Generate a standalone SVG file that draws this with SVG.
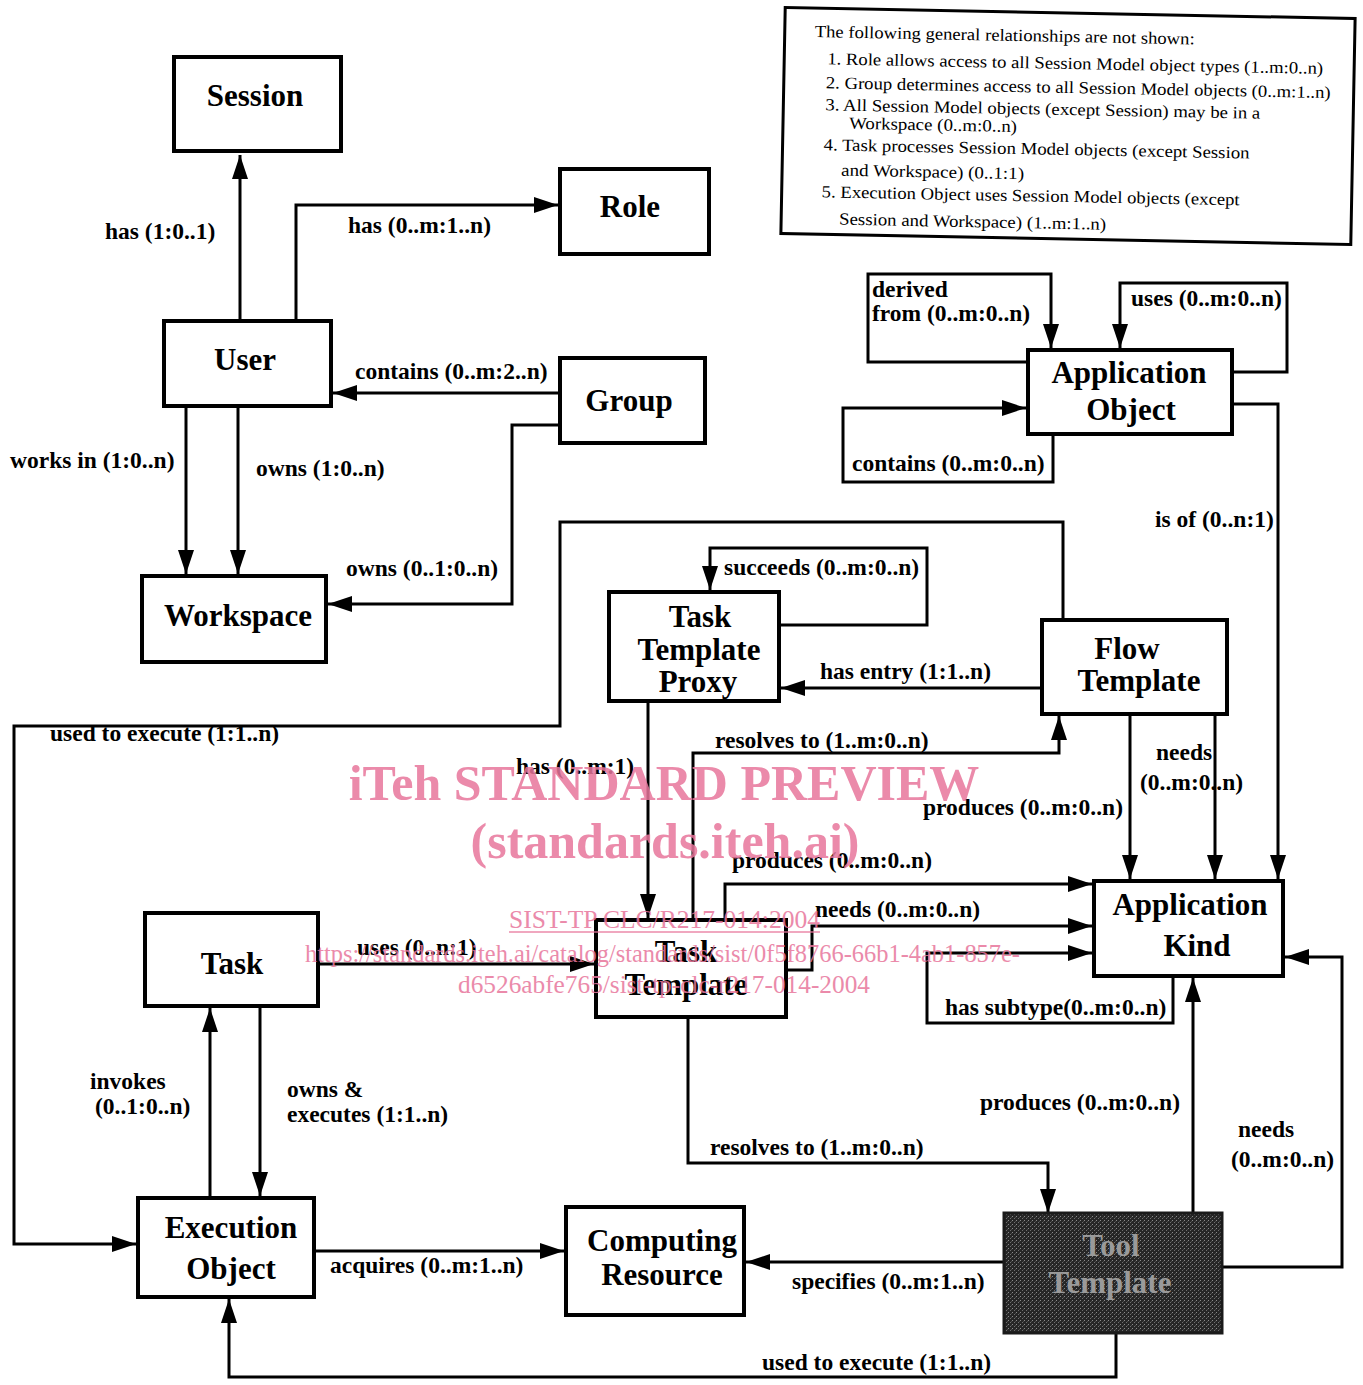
<svg xmlns="http://www.w3.org/2000/svg" width="1363" height="1385" viewBox="0 0 1363 1385">
<style>
.node rect{fill:#fff;stroke:#000;stroke-width:4}
.nt{font-family:"Liberation Serif",serif;font-weight:bold;font-size:31px;text-anchor:middle;fill:#000}
.lbl{font-family:"Liberation Serif",serif;font-weight:bold;font-size:23.5px;fill:#000}
.conn path{fill:none;stroke:#000;stroke-width:3;marker-end:url(#ah)}
.note{font-family:"Liberation Serif",serif;font-size:17px;fill:#000}
.wm{font-family:"Liberation Serif",serif;fill:#e8769c}
</style>
<defs>
<marker id="ah" viewBox="0 0 24 16" refX="24" refY="8" markerWidth="24" markerHeight="16" markerUnits="userSpaceOnUse" orient="auto">
<path d="M0,0 L24,8 L0,16 z" fill="#000"/>
</marker>
<pattern id="dither" width="4" height="4" patternUnits="userSpaceOnUse">
<rect width="4" height="4" fill="#262626"/>
<rect x="0" y="0" width="1" height="1" fill="#8a8a8a"/>
<rect x="2" y="2" width="1" height="1" fill="#6e6e6e"/>
<rect x="3" y="1" width="1" height="1" fill="#4a4a4a"/>
</pattern>
</defs>
<rect width="1363" height="1385" fill="#fff"/>

<g id="notes" transform="rotate(1.1 1068 126)">
<rect x="783" y="13" width="570" height="226" fill="#fff" stroke="#000" stroke-width="3"/>
<text class="note" x="813" y="42" textLength="380" lengthAdjust="spacingAndGlyphs">The following general relationships are not shown:</text>
<text class="note" x="826" y="69" textLength="496" lengthAdjust="spacingAndGlyphs">1. Role allows access to all Session Model object types (1..m:0..n)</text>
<text class="note" x="825" y="93" textLength="505" lengthAdjust="spacingAndGlyphs">2. Group determines access to all Session Model objects (0..m:1..n)</text>
<text class="note" x="825" y="115" textLength="435" lengthAdjust="spacingAndGlyphs">3. All Session Model objects (except Session) may be in a</text>
<text class="note" x="849" y="133" textLength="168" lengthAdjust="spacingAndGlyphs">Workspace (0..m:0..n)</text>
<text class="note" x="824" y="155" textLength="426" lengthAdjust="spacingAndGlyphs">4. Task processes Session Model objects (except Session</text>
<text class="note" x="842" y="180" textLength="183" lengthAdjust="spacingAndGlyphs">and Workspace) (0..1:1)</text>
<text class="note" x="823" y="202" textLength="418" lengthAdjust="spacingAndGlyphs">5. Execution Object uses Session Model objects (except</text>
<text class="note" x="841" y="229" textLength="267" lengthAdjust="spacingAndGlyphs">Session and Workspace) (1..m:1..n)</text>
</g>

<g id="connectors" class="conn">
<g><path d="M240,321 V155"/><text class="lbl" x="105" y="239">has (1:0..1)</text></g>
<g><path d="M296,321 V205 H558"/><text class="lbl" x="348" y="233">has (0..m:1..n)</text></g>
<g><path d="M560,393 H333"/><text class="lbl" x="355" y="379">contains (0..m:2..n)</text></g>
<g><path d="M186,408 V574"/><text class="lbl" x="10" y="468">works in (1:0..n)</text></g>
<g><path d="M238,408 V574"/><text class="lbl" x="256" y="476">owns (1:0..n)</text></g>
<g><path d="M560,425 H512 V604 H328"/><text class="lbl" x="346" y="576">owns (0..1:0..n)</text></g>
<g><path d="M1028,362 H868 V274 H1051 V348"/><text class="lbl" x="872" y="297">derived</text><text class="lbl" x="872" y="321">from (0..m:0..n)</text></g>
<g><path d="M1232,372 H1287 V283 H1120 V348"/><text class="lbl" x="1131" y="306">uses (0..m:0..n)</text></g>
<g><path d="M1053,436 V482 H843 V408 H1026"/><text class="lbl" x="852" y="471">contains (0..m:0..n)</text></g>
<g><path d="M1232,404 H1278 V879"/><text class="lbl" x="1155" y="527">is of (0..n:1)</text></g>
<g><path d="M779,625 H927 V548 H710 V590"/><text class="lbl" x="724" y="575">succeeds (0..m:0..n)</text></g>
<g><path d="M1042,688 H781"/><text class="lbl" x="820" y="679">has entry (1:1..n)</text></g>
<g><path d="M1063,620 V522 H560 V726 H14 V1244 H136"/><text class="lbl" x="50" y="741">used to execute (1:1..n)</text></g>
<g><path d="M648,701 V918"/><text class="lbl" x="516" y="774">has (0..m:1)</text></g>
<g><path d="M693,920 V753 H1059 V716"/><text class="lbl" x="715" y="748">resolves to (1..m:0..n)</text></g>
<g><path d="M1130,714 V879"/><text class="lbl" x="923" y="815">produces (0..m:0..n)</text></g>
<g><path d="M1215,714 V879"/><text class="lbl" x="1156" y="760">needs</text><text class="lbl" x="1140" y="790">(0..m:0..n)</text></g>
<g><path d="M725,920 V884 H1092"/><text class="lbl" x="732" y="868">produces (0..m:0..n)</text></g>
<g><path d="M786,970 H812 V926 H1092"/><text class="lbl" x="815" y="917">needs (0..m:0..n)</text></g>
<g><path d="M1173,976 V1023 H927 V953 H1092"/><text class="lbl" x="945" y="1015">has subtype(0..m:0..n)</text></g>
<g><path d="M318,964 H594"/><text class="lbl" x="357" y="955">uses (0..n:1)</text></g>
<g><path d="M260,1006 V1196"/><text class="lbl" x="287" y="1097">owns &amp;</text><text class="lbl" x="287" y="1122">executes (1:1..n)</text></g>
<g><path d="M210,1198 V1008"/><text class="lbl" x="90" y="1089">invokes</text><text class="lbl" x="95" y="1114">(0..1:0..n)</text></g>
<g><path d="M314,1251 H564"/><text class="lbl" x="330" y="1273">acquires (0..m:1..n)</text></g>
<g><path d="M688,1017 V1163 H1048 V1213"/><text class="lbl" x="710" y="1155">resolves to (1..m:0..n)</text></g>
<g><path d="M1193,1213 V978"/><text class="lbl" x="980" y="1110">produces (0..m:0..n)</text></g>
<g><path d="M1222,1267 H1342 V957 H1285"/><text class="lbl" x="1238" y="1137">needs</text><text class="lbl" x="1231" y="1167">(0..m:0..n)</text></g>
<g><path d="M1004,1262 H746"/><text class="lbl" x="792" y="1289">specifies (0..m:1..n)</text></g>
<g><path d="M1116,1333 V1377 H229 V1299"/><text class="lbl" x="762" y="1370">used to execute (1:1..n)</text></g>
</g>

<g id="session" class="node"><rect x="174" y="57" width="167" height="94"/><text class="nt" x="255" y="106">Session</text></g>
<g id="role" class="node"><rect x="560" y="169" width="149" height="85"/><text class="nt" x="630" y="217">Role</text></g>
<g id="user" class="node"><rect x="164" y="321" width="167" height="85"/><text class="nt" x="245" y="370">User</text></g>
<g id="group" class="node"><rect x="560" y="358" width="145" height="85"/><text class="nt" x="629" y="411">Group</text></g>
<g id="workspace" class="node"><rect x="142" y="576" width="184" height="86"/><text class="nt" x="238" y="626">Workspace</text></g>
<g id="application-object" class="node"><rect x="1028" y="350" width="204" height="84"/><text class="nt" x="1129" y="383">Application</text><text class="nt" x="1131" y="420">Object</text></g>
<g id="task-template-proxy" class="node"><rect x="609" y="592" width="170" height="109"/><text class="nt" x="700" y="627">Task</text><text class="nt" x="699" y="660">Template</text><text class="nt" x="698" y="692">Proxy</text></g>
<g id="flow-template" class="node"><rect x="1042" y="620" width="185" height="94"/><text class="nt" x="1127" y="659">Flow</text><text class="nt" x="1139" y="691">Template</text></g>
<g id="application-kind" class="node"><rect x="1094" y="881" width="189" height="95"/><text class="nt" x="1190" y="915">Application</text><text class="nt" x="1197" y="956">Kind</text></g>
<g id="task" class="node"><rect x="145" y="913" width="173" height="93"/><text class="nt" x="232" y="974">Task</text></g>
<g id="task-template" class="node"><rect x="596" y="920" width="190" height="97"/><text class="nt" x="686" y="962">Task</text><text class="nt" x="686" y="995">Template</text></g>
<g id="execution-object" class="node"><rect x="138" y="1198" width="176" height="99"/><text class="nt" x="231" y="1238">Execution</text><text class="nt" x="231" y="1279">Object</text></g>
<g id="computing-resource" class="node"><rect x="566" y="1207" width="178" height="108"/><text class="nt" x="662" y="1251">Computing</text><text class="nt" x="662" y="1285">Resource</text></g>
<g id="tool-template"><rect x="1004" y="1213" width="218" height="120" fill="url(#dither)" stroke="#1a1a1a" stroke-width="3"/><text class="nt" x="1111" y="1256" style="fill:#9a9a9a">Tool</text><text class="nt" x="1110" y="1293" style="fill:#9a9a9a">Template</text></g>

<g id="watermark" opacity="0.85">
<text class="wm" x="664" y="800" text-anchor="middle" font-size="50" font-weight="bold">iTeh STANDARD PREVIEW</text>
<text class="wm" x="665" y="858" text-anchor="middle" font-size="50" font-weight="bold">(standards.iteh.ai)</text>
<text class="wm" x="509" y="928" font-size="26" textLength="311" lengthAdjust="spacingAndGlyphs">SIST-TP CLC/R217-014:2004</text>
<line x1="509" y1="932" x2="820" y2="932" stroke="#e8769c" stroke-width="1.5"/>
<text class="wm" x="305" y="962" font-size="26" textLength="715" lengthAdjust="spacingAndGlyphs">https://standards.iteh.ai/catalog/standards/sist/0f5f8766-66b1-4ab1-857e-</text>
<text class="wm" x="458" y="993" font-size="26" textLength="412" lengthAdjust="spacingAndGlyphs">d6526abfe765/sist-tp-clc-r217-014-2004</text>
</g>
</svg>
